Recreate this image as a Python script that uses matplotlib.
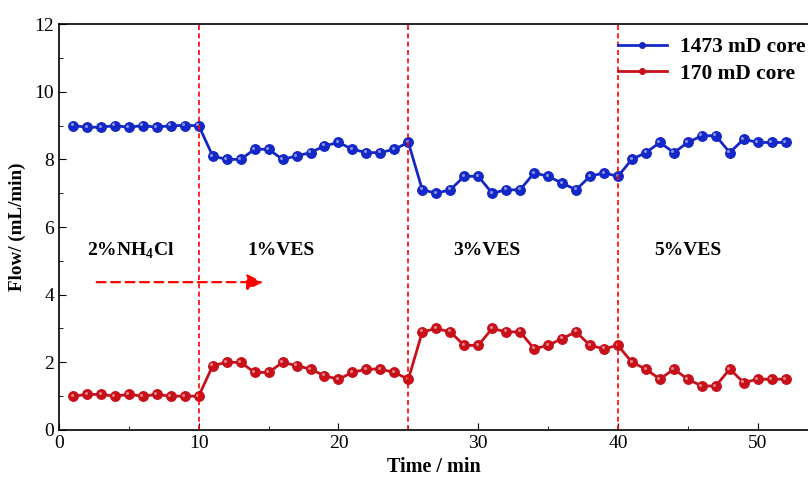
import numpy as np
import matplotlib.pyplot as plt
from matplotlib.ticker import MultipleLocator
from matplotlib.transforms import offset_copy

plt.rcParams['font.family'] = ['Liberation Serif', 'DejaVu Serif']
plt.rcParams['mathtext.fontset'] = 'custom'
plt.rcParams['mathtext.rm'] = 'Liberation Serif'
plt.rcParams['mathtext.bf'] = 'Liberation Serif:bold'

time = np.arange(1, 53)
flow_1473 = [9.0, 8.95, 8.95, 9.0, 8.95, 9.0, 8.95, 9.0, 9.0, 9.0,
             8.1, 8.0, 8.0, 8.3, 8.3, 8.0, 8.1, 8.2, 8.4, 8.5, 8.3, 8.2, 8.2, 8.3, 8.5,
             7.1, 7.0, 7.1, 7.5, 7.5, 7.0, 7.1, 7.1, 7.6, 7.5, 7.3, 7.1, 7.5, 7.6, 7.5,
             8.0, 8.2, 8.5, 8.2, 8.5, 8.7, 8.7, 8.2, 8.6, 8.5, 8.5, 8.5]
flow_170 = [1.0, 1.05, 1.05, 1.0, 1.05, 1.0, 1.05, 1.0, 1.0, 1.0,
            1.9, 2.0, 2.0, 1.7, 1.7, 2.0, 1.9, 1.8, 1.6, 1.5, 1.7, 1.8, 1.8, 1.7, 1.5,
            2.9, 3.0, 2.9, 2.5, 2.5, 3.0, 2.9, 2.9, 2.4, 2.5, 2.7, 2.9, 2.5, 2.4, 2.5,
            2.0, 1.8, 1.5, 1.8, 1.5, 1.3, 1.3, 1.8, 1.4, 1.5, 1.5, 1.5]
stage_bounds = [10, 25, 40]
stage_names = ['2%NH$_\\mathbf{4}$Cl', '1%VES', '3%VES', '5%VES']
stage_x = [5.1, 15.9, 30.6, 45.0]

fig = plt.figure(figsize=(8.08, 4.82), dpi=100)
ax = fig.add_axes([0.073, 0.108, 0.927, 0.842])

# small highlight shifted up-left to mimic the shaded balls
shine = offset_copy(ax.transData, fig=fig, x=-1.0, y=1.0, units='points')

blue = '#1428c8'
red = '#c8101a'
for y, c, lab in [(flow_1473, blue, '1473 mD core'), (flow_170, red, '170 mD core')]:
    ax.plot(time, y, '-', color=c, lw=2, marker='o', ms=7, mfc=c, mec=c, mew=0.8, label=lab)
    ax.plot(time, y, ls='none', marker='o', ms=2.2, mfc='white', mec='none', alpha=0.5,
            transform=shine)

for b in stage_bounds:
    ax.axvline(b, color='red', ls=(0, (3, 2)), lw=1.2)

for xs, name in zip(stage_x, stage_names):
    ax.text(xs, 5.3, name, ha='center', va='center', fontsize=14, fontweight='bold')

ax.annotate('', xy=(14.6, 4.37), xytext=(2.7, 4.37),
            arrowprops=dict(arrowstyle='-|>', color='red', lw=1.6, ls=(0, (4, 2.5)),
                            mutation_scale=24, shrinkA=0, shrinkB=0))

ax.set_xlim(0, 53.6)
ax.set_ylim(0, 12)
ax.xaxis.set_major_locator(MultipleLocator(10))
ax.xaxis.set_minor_locator(MultipleLocator(5))
ax.yaxis.set_major_locator(MultipleLocator(2))
ax.yaxis.set_minor_locator(MultipleLocator(1))
ax.tick_params(which='both', direction='in', labelsize=14)
ax.tick_params(which='major', length=5)
ax.tick_params(which='minor', length=3)
ax.spines['right'].set_visible(False)
for s in ['left', 'bottom', 'top']:
    ax.spines[s].set_linewidth(1.2)

ax.set_xlabel('Time / min', fontsize=14.5, fontweight='bold', labelpad=4)
ax.set_ylabel('Flow/ (mL/min)', fontsize=13.7, fontweight='bold', labelpad=6)

leg = ax.legend(loc='upper right', bbox_to_anchor=(1.022, 1.015), frameon=False,
                prop={'weight': 'bold', 'size': 15.4}, handlelength=2.3, markerscale=0.6,
                handletextpad=0.6, labelspacing=0.3)

fig.savefig('out.png', dpi=100)
